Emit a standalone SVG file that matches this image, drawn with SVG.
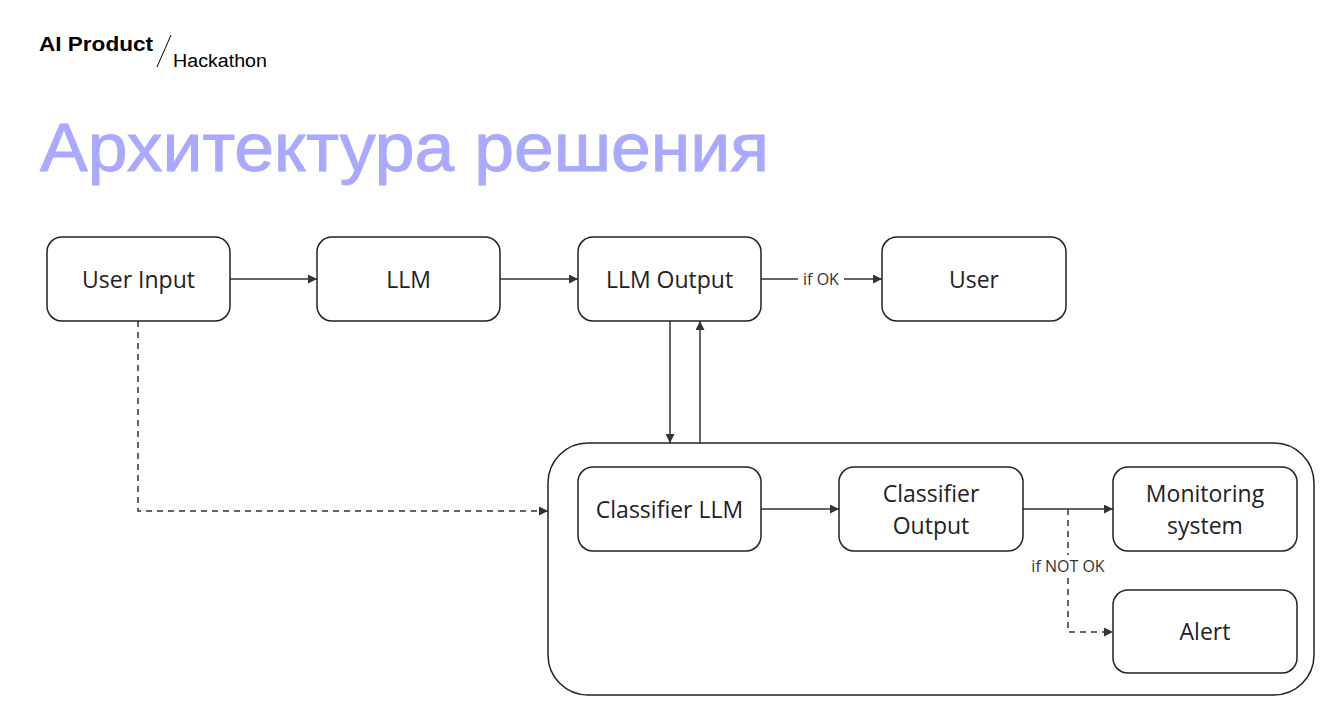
<svg xmlns="http://www.w3.org/2000/svg" width="1342" height="710" viewBox="0 0 1342 710">
<style>
.node rect{fill:#fff;stroke:#222;stroke-width:1.5}
.node text{font-family:"Open Sans","Noto Sans",sans-serif;font-size:23px;fill:#222;text-anchor:middle}
.c{fill:none;stroke:#333;stroke-width:1.5}
.d{stroke-dasharray:6 5}
.lbl{font-family:"Open Sans","Noto Sans",sans-serif;font-size:16px;fill:#333;text-anchor:middle}
</style>
<defs>
<marker id="ah" viewBox="0 0 10 10" refX="10" refY="5" markerWidth="10" markerHeight="9" markerUnits="userSpaceOnUse" orient="auto">
<path d="M0,0 L10,5 L0,10 z" fill="#333"/>
</marker>
</defs>
<rect width="1342" height="710" fill="#fff"/>
<g id="header">
<text x="39" y="51" font-family="Liberation Sans,Arial,sans-serif" font-weight="bold" font-size="20" fill="#000" textLength="114" lengthAdjust="spacingAndGlyphs">AI Product</text>
<line x1="157" y1="67" x2="171" y2="35" stroke="#000" stroke-width="1"/>
<text x="173" y="67" font-family="Liberation Sans,Arial,sans-serif" font-size="18" fill="#000" textLength="94" lengthAdjust="spacingAndGlyphs">Hackathon</text>
<text x="40" y="171" font-family="Liberation Sans,Arial,sans-serif" font-size="68" fill="#A9AAFF" stroke="#A9AAFF" stroke-width="1" textLength="729" lengthAdjust="spacingAndGlyphs">Архитектура решения</text>
</g>
<g id="container" class="node"><rect x="548" y="443" width="766" height="252" rx="40"/></g>
<g id="connectors">
<line class="c" x1="230" y1="279" x2="317" y2="279" marker-end="url(#ah)"/>
<line class="c" x1="500" y1="279" x2="578" y2="279" marker-end="url(#ah)"/>
<line class="c" x1="761" y1="279" x2="798" y2="279"/>
<line class="c" x1="844" y1="279" x2="882" y2="279" marker-end="url(#ah)"/>
<text class="lbl" x="821" y="285">if OK</text>
<line class="c" x1="670" y1="321" x2="670" y2="443" marker-end="url(#ah)"/>
<line class="c" x1="700" y1="443" x2="700" y2="321" marker-end="url(#ah)"/>
<path class="c d" d="M138,321 V511 H548" marker-end="url(#ah)"/>
<line class="c" x1="761" y1="509" x2="839" y2="509" marker-end="url(#ah)"/>
<line class="c" x1="1023" y1="509" x2="1113" y2="509" marker-end="url(#ah)"/>
<path class="c d" d="M1068,509 V555 M1068,578 V632 H1113" marker-end="url(#ah)"/>
<text class="lbl" x="1068" y="572">if NOT OK</text>
</g>
<g id="user-input" class="node"><rect x="47" y="237" width="183" height="84" rx="15"/><text x="138.5" y="288">User Input</text></g>
<g id="llm" class="node"><rect x="317" y="237" width="183" height="84" rx="15"/><text x="408.5" y="288">LLM</text></g>
<g id="llm-output" class="node"><rect x="578" y="237" width="183" height="84" rx="15"/><text x="669.5" y="288">LLM Output</text></g>
<g id="user" class="node"><rect x="882" y="237" width="184" height="84" rx="15"/><text x="974" y="288">User</text></g>
<g id="classifier-llm" class="node"><rect x="578" y="467" width="183" height="84" rx="15"/><text x="669.5" y="518">Classifier LLM</text></g>
<g id="classifier-output" class="node"><rect x="839" y="467" width="184" height="84" rx="15"/><text x="931" y="502">Classifier</text><text x="931" y="534">Output</text></g>
<g id="monitoring" class="node"><rect x="1113" y="467" width="184" height="84" rx="15"/><text x="1205" y="502">Monitoring</text><text x="1205" y="534">system</text></g>
<g id="alert" class="node"><rect x="1113" y="590" width="184" height="83" rx="15"/><text x="1205" y="640">Alert</text></g>
</svg>
